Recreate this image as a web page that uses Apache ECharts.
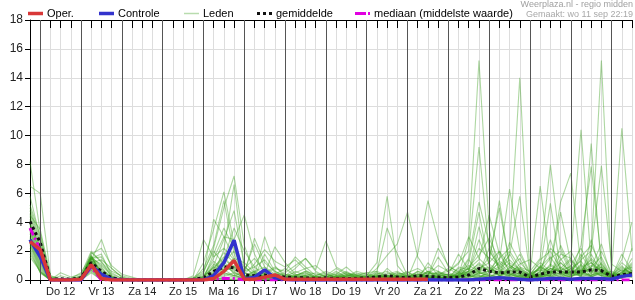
<!DOCTYPE html>
<html><head><meta charset="utf-8">
<script src="https://cdn.jsdelivr.net/npm/echarts@6/dist/echarts.min.js"></script>
<style>html,body{margin:0;padding:0;background:#fff}#c{width:635px;height:300px}</style>
</head><body><div id="c"></div>
<script>
// time steps: 6-hourly from wo 11 sep 18:00 (t=0) to do 26 sep 12:00 (t=59)
const dayLabels = ['Do 12','Vr 13','Za 14','Zo 15','Ma 16','Di 17','Wo 18','Do 19','Vr 20','Za 21','Zo 22','Ma 23','Di 24','Wo 25'];
const dayLines = [1,5,9,13,17,21,25,29,33,37,41,45,49,53,57];
const yTicks = [0,2,4,6,8,10,12,14,16,18];

const oper = [2.65, 2.1,0,0,0, 0.05,1.05,0.1,0, 0,0,0,0, 0,0,0,0, 0,0.1,0.6,1.35, 0.05,0.05,0.2,0.35, 0.05,0.05,0.05,0.05, 0.05,0.05,0.05,0.05, 0.05,0.05,0.05,0.05, 0.05,0.05,0.05];
const controle = [2.8, 1.6,0,0,0, 0,1.0,0.4,0.05, 0,0,0,0, 0,0,0,0, 0,0.3,1.2,2.75, 0.05,0.2,0.7,0.15, 0.05,0,0,0, 0,0,0,0, 0,0,0,0, 0,0,0,0, 0,0,0,0.05, 0.1,0.15,0.1,0.05, 0,0.05,0.1,0.1, 0.05,0.1,0.1,0.1, 0.05,0.25,0.35];
const gemiddelde = [4.05, 2.6,0.05,0.08,0.05, 0.15,1.2,0.6,0.15, 0.05,0,0,0, 0,0,0,0.05, 0.15,0.6,0.9,0.85, 0.35,0.3,0.35,0.3, 0.2,0.15,0.15,0.1, 0.15,0.1,0.1,0.1, 0.15,0.2,0.3,0.2, 0.15,0.3,0.25,0.2, 0.15,0.2,0.35,0.8, 0.6,0.5,0.55,0.55, 0.2,0.4,0.55,0.55, 0.55,0.55,0.7,0.65, 0.25,0.35,0.45];
const mediaan = [3.6, 2.1,0,0,0, 0,0.9,0,0, 0,0,0,0, 0,0,0,0, 0,0.05,0.12,0.1, 0,0,0,0, 0,0,0,0, 0,0,0,0, 0,0,0,0, 0,0,0,0, 0,0,0,0, 0,0,0,0, 0,0,0,0, 0,0,0,0, 0,0,0];

const m01 = [8.2, 3.3,0.2,0,0, 0.2,1.6,0.5,0, 0,0,0,0, 0,0,0,0.1, 0.4,4.2,3.0,1.5, 1.2,0.5,0.3,0.2, 0.1,0,0.2,0, 0.3,0.1,0,0, 0,0.2,0.5,0.3, 0,0.2,0.1,0, 0,0.3,2.8,15.2, 3.5,0.5,0.2,0.1, 0,0.3,0.6,0.4, 0.2,0.8,0.5,1.2, 0.1,0.4,0.8];
const m02 = [6.5, 6.0,0.3,0.1,0, 0.1,1.4,2.8,0.8, 0.2,0,0,0, 0,0,0,0, 1.2,3.5,6.1,2.5, 0.8,1.5,0.6,0.3, 0.5,1.0,1.5,0.6, 0.2,0.4,0.2,0, 0.1,0,0.8,0.2, 0.5,0.8,0.4,1.0, 0.6,1.2,2.0,9.2, 2.0,1.0,0.4,0.3, 0.1,0.6,1.5,2.0, 0.5,1.6,2.4,1.0, 0.3,0.5,1.1];
const m03 = [5.8, 2.9,0,0.5,0.2, 0.4,2.0,1.2,0.6, 0.3,0.1,0,0, 0,0,0,0, 0.8,2.4,5.5,1.8, 0.3,0.6,0.9,0.4, 0.1,0.2,0,0.3, 0.6,0.3,0.1,0, 0,0.5,0.3,0.1, 0.2,0,0.6,0.2, 0,0.5,1.5,5.4, 2.5,0.8,1.4,0.7, 0.2,1.0,0.5,0.8, 1.5,0.4,0.9,2.5, 0.2,1.8,0.6];
const m04 = [5.2, 3.1,0.1,0,0, 0,1.5,0.8,0.2, 0,0,0,0, 0,0,0.1,0, 0.2,1.5,3.0,2.8, 4.5,1.8,0.4,0.1, 0,0.3,0.6,0.2, 0.1,0,0.3,0.5, 0.2,0,0.1,0, 0,0.4,0.2,0.6, 0.3,0.1,1.2,4.7, 1.0,0.3,0.6,1.8, 0.4,0.8,0.3,1.2, 0.6,0.3,1.8,0.5, 0.2,0.3,0.4];
const m05 = [4.8, 2.6,0,0,0.1, 0.5,1.7,0.3,0, 0,0,0,0, 0,0,0,0.3, 2.8,1.6,2.2,1.4, 0.4,2.9,1.2,0.6, 0.3,0.1,0.2,0.1, 0,0.2,0,0.1, 0.3,0.1,0,0.4, 0.1,0,1.2,0.3, 0.8,0.4,0.6,3.7, 1.2,2.0,0.5,0.2, 0.1,0.5,2.8,0.6, 0.3,1.1,0.2,0.6, 0.4,0.1,2.2];
const m06 = [4.6, 2.4,0,0.1,0, 0.1,1.3,0.6,0.1, 0,0,0,0, 0,0,0,0.2, 0.6,2.0,1.1,0.5, 0.2,0.3,3.0,1.0, 0.2,0.4,0.1,0, 0.2,0.1,0.3,0.2, 0,0.3,0.2,0.1, 0.3,0.1,0,0.2, 0.2,0.6,0.3,1.0, 0.7,1.5,2.2,14.0, 0.3,0.2,0.8,0.5, 1.0,2.2,0.7,0.3, 0.1,0.6,0.9];
const m07 = [4.4, 2.2,0,0,0, 0,1.5,1.8,0.3, 0,0,0,0, 0,0,0,0, 0,1.0,2.8,4.8, 1.0,0.2,0.5,0.9, 0.4,0.2,0.3,0.5, 0.2,0.6,0.2,0, 0.1,0.2,0.3,0.2, 0,0.2,0.5,0.4, 0.2,0.8,0.4,1.2, 0.6,0.9,1.7,5.8, 0.4,1.2,0.6,1.4, 2.0,0.6,1.5,0.8, 0.3,1.0,0.3];
const m08 = [4.2, 2.0,0.1,0,0, 0.2,1.2,0.4,0.1, 0,0,0,0, 0,0,0,0, 0.3,0.8,1.5,3.6, 2.0,0.9,0.3,0.2, 0.1,0,0.1,0.3, 0.5,0.1,0,0.1, 0.2,0.1,0.4,0.6, 0.2,0,0.1,0.5, 0.3,0.2,0.9,1.7, 2.9,1.3,6.3,2.0, 0.5,0.7,0.2,0.4, 0.8,1.3,0.4,2.0, 0.5,0.2,0.7];
const m09 = [4.0, 1.9,0,0,0, 0,1.6,0.9,0, 0,0,0,0, 0,0,0,0, 0.1,1.8,3.6,2.2, 0.5,0.2,1.8,0.6, 0.2,0.6,0.3,0, 0,0.1,0.4,0.2, 0.3,0.2,0.1,0, 0.1,0.6,0.2,0.3, 0.4,0.2,0.5,0.8, 1.2,5.5,1.0,0.6, 0.2,0.9,1.6,0.5, 0.4,0.9,1.2,0.6, 0.2,0.8,0.5];
const m10 = [3.9, 1.8,0,0.3,0.1, 0.3,1.5,1.1,0.4, 0.1,0,0,0, 0,0,0,0, 0,0.5,1.2,2.0, 0.6,2.5,0.9,0.1, 0.3,0.5,0.8,1.0, 0.4,0.2,0.1,0.3, 0.2,0.3,0.2,0.1, 0,0.3,0.9,0.6, 0.1,0.9,0.7,2.2, 1.5,5.0,1.1,0.4, 0.1,0.4,0.3,2.4, 0.9,0.2,2.8,0.4, 0.2,0.4,1.5];
const m11 = [3.8, 2.3,0.2,0,0, 0.1,1.4,0.7,0.2, 0,0,0,0, 0,0,0,0.1, 0.3,1.3,0.6,1.0, 0.3,0.1,0.4,2.3, 1.2,0.4,0.2,0.1, 0,0.3,0.6,0.2, 0.1,0.4,0.2,0.3, 0.6,0.1,0.3,1.6, 0.5,0.3,0.8,1.4, 4.5,1.8,0.6,0.9, 0.3,1.4,2.0,0.8, 0.5,1.8,0.6,1.1, 0.3,0.9,0.4];
const m12 = [3.6, 1.7,0,0,0, 0,1.3,0.5,0, 0,0,0,0, 0,0,0,0, 0,0.7,1.9,1.2, 0.2,0.6,0.4,0.8, 0.6,1.6,0.9,0.3, 0.1,0.3,0.2,0.6, 0.4,0.1,0.3,0.2, 0.3,0.5,0.1,0.4, 0.6,1.1,3.0,1.5, 0.8,0.4,2.6,1.2, 0.5,0.3,1.1,0.6, 1.4,0.6,0.3,0.9, 0.2,0.5,1.2];
const m13 = [3.5, 1.6,0,0,0, 0.2,1.7,0.2,0, 0,0,0,0, 0,0,0,0, 0.1,0.4,0.9,0.6, 0.1,0.2,0.6,0.3, 0.2,0.3,0.6,0.4, 0.3,0.8,0.4,0.1, 0.2,0.6,0.3,0.5, 0.2,0.4,0.3,0.2, 0.1,0.4,0.6,2.8, 1.1,0.6,0.3,0.8, 0.4,6.5,1.0,0.5, 0.2,0.7,1.4,0.5, 0.4,0.2,0.6];
const m14 = [3.4, 1.5,0,0,0, 0,1.2,1.4,0.8, 0.2,0,0,0, 0,0,0,0, 0,0.3,2.1,6.6, 0.9,0.4,0.2,0.1, 0.2,0.1,0.4,0.2, 0.1,0.1,0.3,0.4, 0.1,0.4,0.6,0.2, 0.4,0.2,0.6,0.1, 0.3,0.2,0.4,0.6, 1.6,1.0,2.0,0.9, 0.6,1.5,8.0,2.2, 0.7,0.4,0.9,1.6, 0.2,0.7,0.3];
const m15 = [3.3, 1.4,0.1,0,0, 0.3,1.6,1.0,0.3, 0,0,0,0, 0,0,0,0, 0.2,1.1,0.7,0.3, 0.2,0.5,0.2,0.4, 0.8,0.3,0.5,0.2, 0.2,0.4,0.9,0.3, 0.5,0.2,0.1,0.3, 0.2,0.6,0.4,0.5, 0.4,1.8,0.7,0.4, 2.2,0.7,0.4,1.1, 1.4,0.8,5.3,0.7, 0.3,0.5,0.8,0.3, 0.6,0.3,0.2];
const m16 = [3.2, 1.3,0,0,0, 0,1.1,0.4,0, 0,0,0,0, 0,0,0,0, 0,0.2,0.5,0.3, 0.1,0.3,0.1,0.2, 0.1,0.2,0.1,0, 0,0.2,0.1,0.2, 0.1,0,0.2,0.1, 0.2,0.1,0.2,0, 0.1,0.5,0.3,0.6, 0.4,1.3,0.9,0.5, 0.2,0.6,0.9,4.7, 1.2,0.5,0.3,0.6, 0.1,0.3,0.5];
const m17 = [3.0, 1.2,0,0,0, 0.1,1.5,0.6,0.2, 0,0,0,0, 0,0,0,0, 0.2,0.9,1.6,0.8, 0.3,0.2,0.5,0.2, 0.4,0.2,0.1,0.2, 0.1,0.2,0.5,0.2, 0,0.3,0.2,0.4, 0.5,0.3,0.2,0.1, 0.2,0.3,0.5,0.7, 0.9,0.3,0.8,1.5, 0.2,0.4,1.0,5.4, 7.4,0.9,0.6,0.3, 0.2,0.5,1.0];
const m18 = [2.9, 1.1,0,0,0, 0,1.3,0.3,0, 0,0,0,0, 0,0,0,0, 0,0.3,0.8,1.5, 0.5,0.2,0.1,0, 0.1,0.1,0,0.1, 0.2,0,0.1,0.3, 0.1,0.2,0.1,0, 0.1,0.3,0.1,0.2, 0,0.2,0.6,1.1, 0.6,0.4,1.8,0.6, 0.1,0.3,0.4,1.8, 1.5,10.4,1.2,0.6, 0.3,0.2,0.4];
const m19 = [2.8, 1.0,0,0,0, 0,1.6,0.5,0.1, 0,0,0,0, 0,0,0,0, 0,0.4,1.0,0.7, 0.2,0.1,0.2,0.1, 0,0.2,0.3,0.1, 0,0.1,0.2,0, 0.2,0.1,0,0.2, 0.3,0,0.2,0.1, 0.2,0.3,0.2,0.4, 0.6,1.2,0.5,0.3, 0.4,0.7,2.2,1.5, 0.4,1.0,9.45,0.8, 0.2,1.2,0.6];
const m20 = [2.7, 0.9,0,0,0, 0,1.4,0.2,0, 0,0,0,0, 0,0,0,0, 0,0.1,0.4,0.2, 0.1,0,0.1,0, 0.2,0,0.1,0, 0.1,0.2,0,0.1, 0,0.1,0.2,0, 0.1,0.2,0,0.1, 0.2,0,0.4,0.3, 0.2,0.5,0.3,0.8, 0.2,0.4,0.6,1.2, 0.5,2.4,7.85,1.4, 0.1,0.4,0.9];
const m21 = [2.6, 0.8,0,0,0, 0,1.0,0.1,0, 0,0,0,0, 0,0,0,0, 0,0.2,0.6,0.9, 0.3,0.1,0,0.1, 0,0.1,0.2,0, 0.1,0,0.1,0.2, 0,0.2,0,0.1, 0.2,0,0.3,0.2, 0.1,0.2,0.1,0.5, 0.3,0.2,0.6,0.4, 0.3,0.5,0.2,0.7, 0.9,0.5,2.0,15.2, 0.3,0.2,0.5];
const m22 = [2.5, 0.7,0,0,0, 0,0.9,0,0, 0,0,0,0, 0,0,0,0, 0,0.5,1.3,0.4, 0,0.2,0.3,0.1, 0.1,0.3,0,0, 0.2,0.1,0,0.1, 0.1,0.3,0.2,0.1, 0,0.1,0.4,0.2, 0.4,0.2,0.3,0.2, 0.5,0.8,0.4,0.2, 0.1,0.9,0.5,0.3, 0.6,1.4,2.0,7.9, 1.1,0.6,0.3];
const m23 = [2.4, 0.6,0,0,0, 0,0.8,0.1,0, 0,0,0,0, 0,0,0,0, 0,0.1,0.3,0.5, 0.2,0.4,0.2,0, 0,0.1,0.2,0.1, 0,0.3,0.1,0, 0.1,0,0.1,0.3, 0.2,0.1,0.1,0, 0.3,0.1,0.2,0.5, 0.3,0.2,0.9,0.3, 0.2,0.3,0.8,0.6, 0.5,0.6,1.2,0.4, 0.6,10.5,2.0];
const m24 = [2.2, 0.5,0,0,0, 0,0.7,0,0, 0,0,0,0, 0,0,0,0, 0,0,0.2,0.1, 0,0.1,0,0, 0,0,0.1,0, 0.1,0,0,0.1, 0,0.1,0,0, 0.1,0,0.2,0.1, 0,0.3,0.1,0.2, 0.2,0.1,0.4,0.2, 0.1,0.2,0.3,0.5, 0.4,0.3,0.8,0.9, 0.3,1.4,4.0];
const m25 = [2.0, 0.5,0,0,0, 0,0.6,0,0, 0,0,0,0, 0,0,0,0, 0,0,0.1,0, 0,0,0.1,0, 0,0.1,0,0.2, 0.3,0.1,0.4,0.2, 0.3,1.2,5.8,1.0, 0.2,0.4,0.1,0.2, 0.1,0.4,0.3,0.2, 0.4,0.2,0.1,0.3, 0.1,0.2,0.4,0.2, 0.3,0.4,0.2,0.5, 0.1,0.3,0.2];
const m26 = [1.8, 0.6,0,0,0, 0,0.5,0,0, 0,0,0,0, 0,0,0,0, 0,0.2,0,0, 0,0.1,0,0, 0.2,0.3,0.5,0.1, 0.2,0.5,0.2,0.4, 0.5,0.6,3.6,1.8, 0.3,0.2,0.6,0.4, 0.2,0.5,0.3,0.1, 0.7,0.3,0.2,0.5, 0.3,0.1,0.6,0.4, 0.2,0.5,0.3,0.7, 0.2,0.1,0.4];
const m27 = [1.6, 0.6,0,0,0, 0,0.7,0.1,0, 0,0,0,0, 0,0,0,0, 0,0,0.1,0, 0,0,0,0, 0.1,0,0.1,0.2, 0.1,0.2,0.5,0.3, 0.2,0.8,1.7,2.5, 4.7,1.6,0.5,0.3, 0.4,0.2,0.6,0.3, 0.2,0.6,0.3,0.2, 0.4,0.2,0.3,0.1, 0.6,0.2,0.4,0.3, 0.2,0.5,0.3];
const m28 = [4.5, 3.5,0.3,0,0, 0,1.8,2.2,1.0, 0.4,0.2,0,0, 0,0,0,0, 0.1,0.6,1.4,0.9, 0.4,1.1,2.1,1.3, 0.9,1.4,0.7,0.2, 0.4,0.2,0.3,0.1, 0.2,0.5,0.1,0.2, 0.1,1.8,5.5,2.8, 0.9,0.6,1.0,0.6, 0.8,0.5,1.2,0.7, 0.3,0.9,0.5,0.2, 0.8,0.3,0.5,0.4, 0.5,0.3,0.7];
const m29 = [5.0, 2.8,0,0,0, 0.2,1.5,1.6,0.5, 0.1,0,0,0, 0,0,0,0, 0.2,0.9,0.5,0.3, 0.6,0.9,1.4,0.5, 0.3,0.8,1.5,0.7, 2.7,0.9,0.5,0.3, 0.4,0.2,0.3,0.5, 0.3,0.2,0.3,2.2, 1.0,0.5,0.8,0.5, 0.6,0.3,0.7,0.4, 0.2,0.4,0.8,0.6, 0.4,0.7,0.2,0.5, 0.3,0.7,0.5];
const m30 = [3.7, 1.9,0.1,0,0, 0.1,1.9,1.3,0.2, 0,0,0,0, 0,0,0,0.1, 0.5,2.2,5.0,7.2, 2.4,0.5,0.2,0.1, 0.2,0.1,0.3,0.2, 0.1,0.2,0.1,0, 0.1,0.2,0.2,0.1, 0.2,0.1,0,0.3, 0.2,0.3,1.4,0.5, 0.3,2.0,1.0,0.6, 0.4,0.2,0.5,0.9, 0.4,0.6,1.0,0.7, 0.3,0.2,0.6];
const leden = [m01,m02,m03,m04,m05,m06,m07,m08,m09,m10,m11,m12,m13,m14,m15,m16,m17,m18,m19,m20,m21,m22,m23,m24,m25,m26,m27,m28,m29,m30];

const FONT = '"Liberation Sans", Arial, sans-serif';
const toPairs = a => a.map((v, i) => [i, v]);

const series = [];
series.push({
  type: 'line', data: [[0, 0]], symbol: 'none', silent: true, z: 1,
  lineStyle: { opacity: 0 },
  markLine: {
    silent: true, symbol: ['none', 'none'], label: { show: false },
    lineStyle: { color: '#555', width: 1, type: 'solid' },
    data: dayLines.map(t => ({ xAxis: t }))
  }
});
leden.forEach(m => series.push({
  type: 'line', name: 'Leden', data: toPairs(m), symbol: 'none', silent: true, z: 2,
  lineStyle: { color: 'rgba(60,160,30,0.42)', width: 1.1 }
}));
series.push({ type: 'line', name: 'mediaan', data: toPairs(mediaan), symbol: 'none', z: 3,
  lineStyle: { color: '#e000e0', width: 3, type: [8, 3, 2, 3] } });
series.push({ type: 'line', name: 'gemiddelde', data: toPairs(gemiddelde), symbol: 'none', z: 4,
  lineStyle: { color: '#111', width: 3, type: [3, 3] } });
series.push({ type: 'line', name: 'Controle', data: toPairs(controle), symbol: 'none', z: 5,
  lineStyle: { color: '#3333cc', width: 3.5 } });
series.push({ type: 'line', name: 'Oper.', data: toPairs(oper), symbol: 'none', z: 6,
  lineStyle: { color: '#d83838', width: 3.5 } });

const legendItems = [
  { x: 28, text: 'Oper.', style: { stroke: '#d83838', lineWidth: 3.5 } },
  { x: 99, text: 'Controle', style: { stroke: '#3333cc', lineWidth: 3.5 } },
  { x: 184, text: 'Leden', style: { stroke: '#b8dcae', lineWidth: 1.5 } },
  { x: 257, text: 'gemiddelde', style: { stroke: '#111', lineWidth: 3, lineDash: [3, 3] } },
  { x: 355, text: 'mediaan (middelste waarde)', style: { stroke: '#e000e0', lineWidth: 3, lineDash: [11, 2, 2, 3] } }
];
const graphic = [];
legendItems.forEach(it => {
  graphic.push({ type: 'line', shape: { x1: it.x, y1: 13.5, x2: it.x + 15, y2: 13.5 }, style: it.style, silent: true });
  graphic.push({ type: 'text', x: it.x + 19, y: 13.5, silent: true,
    style: { text: it.text, fill: '#000', font: '11px ' + FONT, textVerticalAlign: 'middle', verticalAlign: 'middle' } });
});
graphic.push({ type: 'text', right: 2, top: 0, silent: true,
  style: { text: 'Weerplaza.nl - regio midden', fill: '#a0a0a0', font: '9px ' + FONT, textAlign: 'right' } });
graphic.push({ type: 'text', right: 2, top: 10.5, silent: true,
  style: { text: 'Gemaakt: wo 11 sep 22:19', fill: '#a8a8a8', font: '9px ' + FONT, textAlign: 'right' } });

const chart = echarts.init(document.getElementById('c'), null, { renderer: 'canvas' });
chart.setOption({
  animation: false,
  backgroundColor: '#fff',
  grid: { left: 30, right: 0, top: 20, bottom: 20, containLabel: false },
  xAxis: [{
    type: 'value', min: 0, max: 59, interval: 1, position: 'bottom',
    axisLine: { show: true, onZero: false, lineStyle: { color: '#000', width: 1 } },
    axisTick: { show: true, length: 4, lineStyle: { color: '#000' } },
    axisLabel: { show: true, margin: 6, color: '#222', fontSize: 11, fontFamily: FONT, showMinLabel: true, showMaxLabel: true,
      formatter: v => { const k = (v - 3) / 4; return (Number.isInteger(k) && k >= 0 && k < dayLabels.length) ? dayLabels[k] : ''; } },
    splitLine: { show: true, lineStyle: { color: '#dddddd', width: 1 } }
  }, {
    type: 'value', min: 0, max: 59, interval: 1, position: 'top',
    axisLine: { show: true, onZero: false, lineStyle: { color: '#000', width: 1 } },
    axisTick: { show: true, inside: true, length: 8, lineStyle: { color: '#000' } },
    axisLabel: { show: false }, splitLine: { show: false }
  }],
  yAxis: {
    type: 'value', min: yTicks[0], max: yTicks[yTicks.length - 1], interval: 2,
    axisLine: { show: true, lineStyle: { color: '#000', width: 1 } },
    axisTick: { show: true, length: 5, lineStyle: { color: '#000' } },
    axisLabel: { margin: 7, color: '#222', fontSize: 12, fontFamily: FONT },
    splitLine: { show: true, lineStyle: { color: '#dddddd', width: 1 } }
  },
  graphic: graphic,
  series: series
});
</script></body></html>
